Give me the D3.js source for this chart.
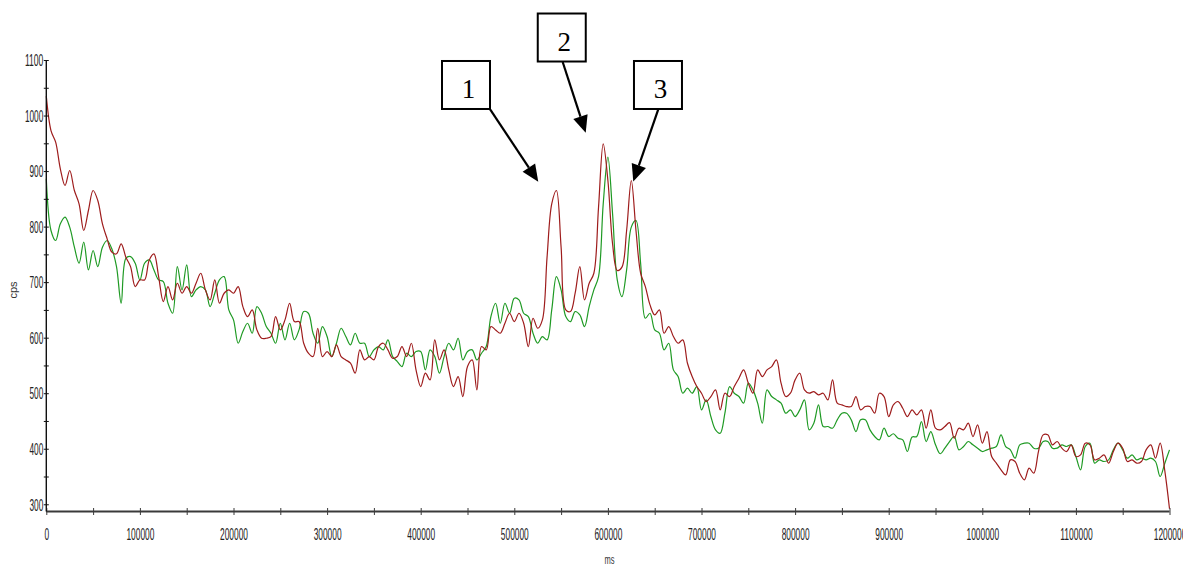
<!DOCTYPE html>
<html>
<head>
<meta charset="utf-8">
<script src="https://cdn.jsdelivr.net/npm/d3@7"></script>
<style>
  html, body { margin: 0; padding: 0; background: #ffffff; }
  svg { display: block; }
</style>
</head>
<body>
<svg id="chart" width="1183" height="566"></svg>
<script>
// Acquisition time grid (ms), one reading every 5 s
const sampleTimes = d3.range(0, 1200001, 5000);

// Trace A (red), counts per second
const redCps = [
  1035, 973, 952, 904, 874, 901, 865, 841, 793, 829, 865, 847, 805, 778, 754, 751, 769, 745, 728, 692,
  704, 704, 740, 751, 710, 665, 692, 668, 698, 680, 692, 680, 698, 716, 686, 668, 704, 662, 680, 686,
  680, 692, 656, 638, 650, 614, 599, 599, 602, 638, 614, 632, 662, 629, 629, 590, 572, 566, 617, 566,
  575, 566,
  587, 566, 560, 554, 536, 578, 560, 566, 560, 584, 590, 578, 563, 566, 584, 566, 590, 542, 512, 536,
  524, 596, 560, 578, 542, 512, 530, 494, 548, 560, 506, 584, 578, 620, 614, 608, 626, 644, 629, 644,
  626, 584, 635, 617, 632, 745, 841, 865, 763, 650, 647, 680, 728, 668, 698, 716, 835, 949, 883, 769,
  721,
  727, 793, 883, 793, 716, 692, 659, 641, 650, 608, 620, 602, 590, 596, 554, 530, 512, 500, 485, 494,
  506, 470, 500, 494, 512, 527, 542, 518, 500, 542, 530, 542, 548, 560, 518, 494, 500, 524, 536, 506,
  500, 503, 497, 500, 488, 524, 482, 479, 476, 476, 494, 470, 476, 476, 464, 500, 494, 458,
  479, 485, 473, 458, 470, 461, 470, 437, 470, 437, 434, 440, 447, 419, 437, 434, 446, 422, 443, 410,
  431, 386, 374, 362, 353, 380, 377, 356, 344, 365, 356, 395, 425, 425, 407, 413, 401, 395, 407, 386,
  389, 410, 407, 380, 383, 389, 374, 395, 410, 401, 377, 380, 374, 377, 398, 407, 383, 410, 360, 292
];

// Trace B (green), counts per second
const greenCps = [
  886, 793, 775, 805, 817, 799, 763, 734, 772, 722, 757, 728, 763, 775, 760, 728, 662, 743, 746, 734,
  704, 734, 740, 722, 704, 701, 662, 644, 728, 686, 731, 674, 686, 692, 686, 656, 680, 704, 710, 650,
  632, 590, 611, 626, 608, 656, 644, 620, 608, 590, 626, 596, 626, 596, 614, 647, 644, 608, 590, 620,
  602, 566,
  590, 617, 602, 587, 608, 590, 590, 566, 578, 584, 578, 596, 566, 557, 548, 572, 566, 575, 575, 542,
  578, 566, 536, 566, 590, 578, 599, 560, 575, 578, 560, 572, 584, 638, 662, 626, 662, 644, 671, 668,
  644, 638, 608, 590, 602, 596, 650, 710, 686, 638, 629, 647, 641, 620, 656, 686, 710, 841, 925, 823,
  704,
  674, 722, 799, 811, 733, 635, 644, 614, 608, 578, 590, 542, 530, 500, 509, 500, 512, 470, 488, 458,
  434, 428, 464, 512, 500, 494, 482, 518, 506, 482, 446, 506, 494, 488, 482, 464, 470, 458, 470, 488,
  434, 446, 479, 440, 440, 437, 452, 464, 464, 452, 431, 452, 452, 434, 422, 416, 437, 422,
  427, 419, 416, 395, 421, 422, 449, 413, 431, 407, 391, 401, 413, 422, 398, 404, 413, 407, 401, 395,
  398, 401, 404, 425, 404, 398, 383, 407, 410, 410, 401, 401, 413, 413, 401, 401, 407, 404, 407, 386,
  362, 404, 410, 374, 380, 377, 380, 398, 410, 398, 383, 389, 380, 383, 380, 383, 377, 350, 374, 398
];

// Axis ticks: labelled majors and unlabelled minors in between
const xTickValues = [0, 100000, 200000, 300000, 400000, 500000, 600000, 700000, 800000, 900000, 1000000, 1100000, 1200000];
const xMinorTickValues = [50000, 150000, 250000, 350000, 450000, 550000, 650000, 750000, 850000, 950000, 1050000, 1150000];
const yTickValues = [300, 400, 500, 600, 700, 800, 900, 1000, 1100];
const yMinorTickValues = [350, 450, 550, 650, 750, 850, 950, 1050];

// Numbered peak call-outs: box centre, arrow tail and arrow tip in data units
const peakLabels = ["1", "2", "3"];
const peakBoxAt  = [[448400, 1055], [550700, 1140.5], [653500, 1055]];
const peakTailAt = [[474000, 1011.7], [551700, 1096.4], [653900, 1011.7]];
const peakTipAt  = [[525600, 880.7], [576300, 969], [627100, 881]];

const xTitle = "ms";
const yTitle = "cps";

const svg = d3.select("#chart");
const x = d3.scaleLinear().domain([0, 1200000]).range([46.3, 1169.5]);
const y = d3.scaleLinear().domain([287, 1100]).range([511.5, 60]);

const tickFont = "'Liberation Sans Narrow', 'Arial Narrow', 'Liberation Sans', Arial, sans-serif";

// ---- traces ----
const line = d3.line()
  .x((d, i) => x(sampleTimes[i]))
  .y(d => y(d))
  .curve(d3.curveCatmullRom.alpha(0.5));

svg.append("path")
  .datum(greenCps)
  .attr("fill", "none")
  .attr("stroke", "#1f9a24")
  .attr("stroke-width", 1.2)
  .attr("d", line);

svg.append("path")
  .datum(redCps)
  .attr("fill", "none")
  .attr("stroke", "#9e1c1c")
  .attr("stroke-width", 1.2)
  .attr("d", line);

// ---- x axis ----
const fmt = d3.format("d");
const xAxis = d3.axisBottom(x)
  .tickValues(xTickValues.concat(xMinorTickValues))
  .tickSize(0)
  .tickPadding(0)
  .tickFormat(v => xTickValues.includes(v) ? fmt(v) : "");

const gx = svg.append("g").attr("transform", `translate(0,${y(287)})`).call(xAxis);
gx.select(".domain").attr("stroke", "#3a3a3a").attr("stroke-width", 2).attr("d", `M${x(0)},0H${x(1200000)}`);
gx.selectAll(".tick line").attr("y1", -3.5).attr("y2", 3.5).attr("stroke", "#3a3a3a").attr("stroke-width", 1);
gx.selectAll(".tick text")
  .attr("y", 28.5).attr("dy", 0)
  .attr("font-family", tickFont).attr("font-size", 16).attr("fill", "#222")
  .each(function() {
    const t = this.textContent;
    if (t.length) d3.select(this).attr("textLength", 4.65 * t.length).attr("lengthAdjust", "spacingAndGlyphs");
  });

// ---- y axis ----
const yAxis = d3.axisLeft(y)
  .tickValues(yTickValues.concat(yMinorTickValues))
  .tickSize(0)
  .tickPadding(0)
  .tickFormat(v => yTickValues.includes(v) ? fmt(v) : "");

const gy = svg.append("g").attr("transform", `translate(${x(0)},0)`).call(yAxis);
gy.select(".domain").attr("stroke", "#111").attr("stroke-width", 1.4).attr("d", `M0,${y(1100)}V${y(287)}`);
gy.selectAll(".tick line").attr("x1", -2.5).attr("x2", 2.5).attr("stroke", "#111").attr("stroke-width", 1);
gy.selectAll(".tick text")
  .attr("x", -3).attr("dy", "0.36em")
  .attr("font-family", tickFont).attr("font-size", 16).attr("fill", "#222")
  .each(function() {
    const t = this.textContent;
    if (t.length) d3.select(this).attr("textLength", 4.6 * t.length).attr("lengthAdjust", "spacingAndGlyphs");
  });
gx.select(".domain").raise();

// ---- axis titles ----
svg.append("text")
  .attr("x", (x(0) + x(1200000)) / 2 + 1.5).attr("y", 564)
  .attr("text-anchor", "middle")
  .attr("font-family", tickFont).attr("font-size", 12).attr("fill", "#333")
  .attr("textLength", 10).attr("lengthAdjust", "spacingAndGlyphs")
  .text(xTitle);

svg.append("text")
  .attr("transform", `translate(17,290) rotate(-90)`)
  .attr("text-anchor", "middle")
  .attr("font-family", tickFont).attr("font-size", 11).attr("fill", "#333")
  .text(yTitle);

// ---- peak call-outs ----
const boxSize = 48;
const headLen = 17, headHalf = 7.5;
peakLabels.forEach((lab, k) => {
  const cx = x(peakBoxAt[k][0]), cy = y(peakBoxAt[k][1]);
  const tx = x(peakTailAt[k][0]), ty = y(peakTailAt[k][1]);
  const px = x(peakTipAt[k][0]), py = y(peakTipAt[k][1]);
  const dx = px - tx, dy = py - ty, len = Math.hypot(dx, dy);
  const ux = dx / len, uy = dy / len;
  const bx = px - ux * headLen, by = py - uy * headLen;

  svg.append("line")
    .attr("x1", tx).attr("y1", ty).attr("x2", bx).attr("y2", by)
    .attr("stroke", "#000").attr("stroke-width", 2.2);
  svg.append("path")
    .attr("d", `M${px},${py}L${bx - uy * headHalf},${by + ux * headHalf}L${bx + uy * headHalf},${by - ux * headHalf}Z`)
    .attr("fill", "#000");

  svg.append("rect")
    .attr("x", cx - boxSize / 2).attr("y", cy - boxSize / 2)
    .attr("width", boxSize).attr("height", boxSize)
    .attr("fill", "#fff").attr("stroke", "#000").attr("stroke-width", 2);
  svg.append("text")
    .attr("x", cx + 2.5).attr("y", cy + 13)
    .attr("text-anchor", "middle")
    .attr("font-family", "'Liberation Serif', 'Times New Roman', serif")
    .attr("font-size", 27).attr("fill", "#000")
    .text(lab);
});
</script>
</body>
</html>
